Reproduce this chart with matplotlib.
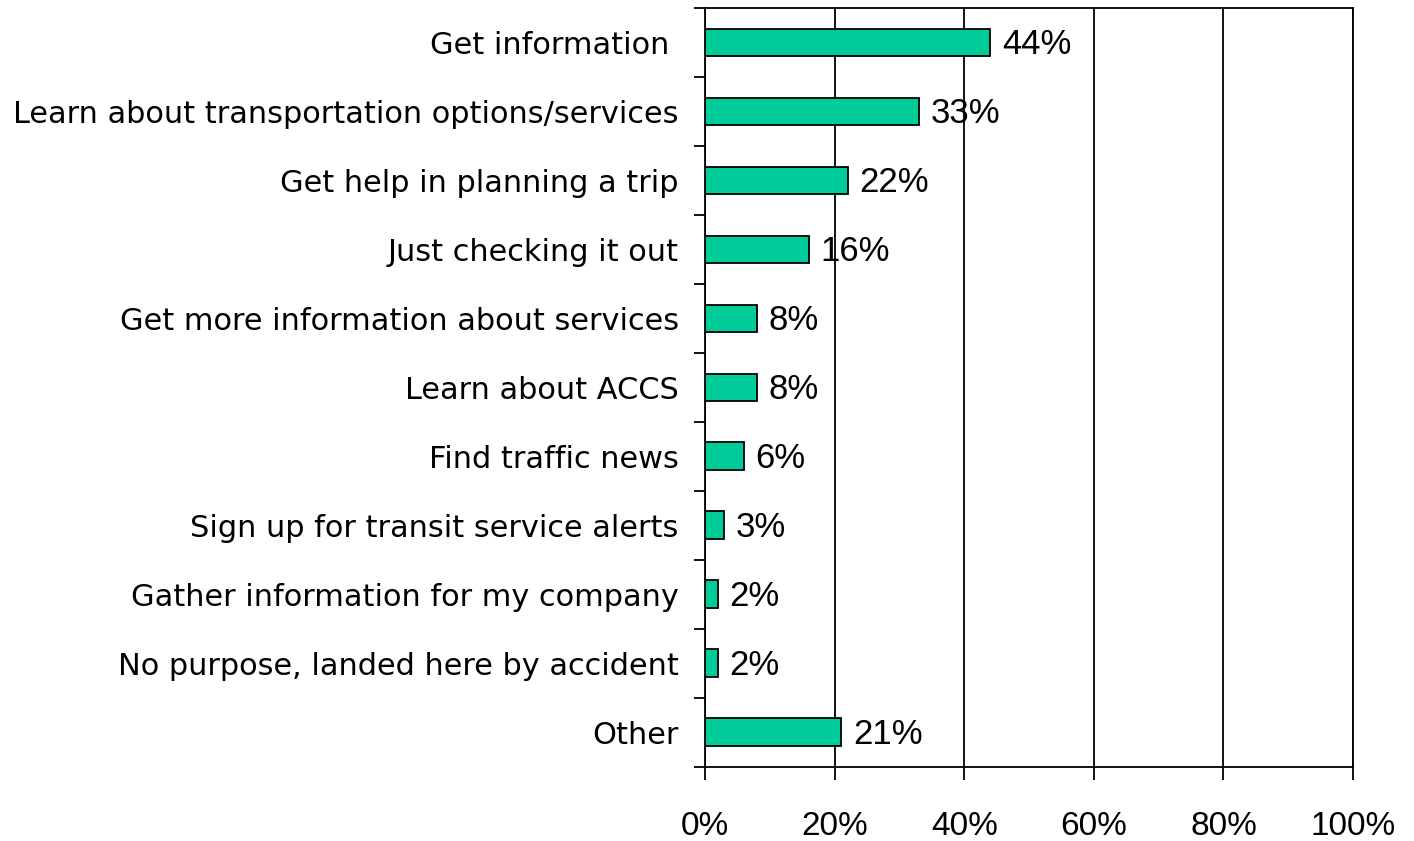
import matplotlib.pyplot as plt
import matplotlib.transforms as mtransforms
import numpy as np
from matplotlib.ticker import FixedLocator

categories = [
    "Get information ",
    "Learn about transportation options/services",
    "Get help in planning a trip",
    "Just checking it out",
    "Get more information about services",
    "Learn about ACCS",
    "Find traffic news",
    "Sign up for transit service alerts",
    "Gather information for my company",
    "No purpose, landed here by accident",
    "Other",
]
values = [44, 33, 22, 16, 8, 8, 6, 3, 2, 2, 21]
xticks = [0, 20, 40, 60, 80, 100]
xtick_labels = ["0%", "20%", "40%", "60%", "80%", "100%"]

plt.rcParams["font.family"] = ["Liberation Sans", "DejaVu Sans"]

fig = plt.figure(figsize=(14.14, 8.41), dpi=100)
ax = fig.add_axes([0.4986, 0.0884, 0.4583, 0.9021])

y = np.arange(len(categories))
ax.barh(y, values, height=0.4, color="#00cc99", edgecolor="black", linewidth=1.3, zorder=3)

for yi, v in zip(y, values):
    ax.text(v + 1.8, yi + 0.03, f"{v}%", va="center", ha="left", fontsize=25)

ax.set_xlim(0, 100)
ax.set_ylim(len(categories) - 0.5, -0.5)
ax.set_xticks(xticks)
ax.set_xticklabels(xtick_labels, fontsize=24)
ax.tick_params(axis="x", length=9, width=1.3, pad=23)
ax.grid(axis="x", color="black", linewidth=1.3, zorder=0)

ax.set_yticks(y)
ax.set_yticklabels(categories, fontsize=21.9, family="DejaVu Sans")
# nudge category labels up a few pixels
shift = mtransforms.ScaledTranslation(0, 3 / 72, fig.dpi_scale_trans)
for lbl in ax.get_yticklabels():
    lbl.set_transform(lbl.get_transform() + shift)
ax.tick_params(axis="y", which="major", length=0, pad=19)
ax.yaxis.set_minor_locator(FixedLocator(np.arange(-0.5, len(categories), 1.0)))
ax.tick_params(axis="y", which="minor", length=8, width=1.3)

for s in ax.spines.values():
    s.set_linewidth(1.3)

fig.savefig("out.png", dpi=100)
